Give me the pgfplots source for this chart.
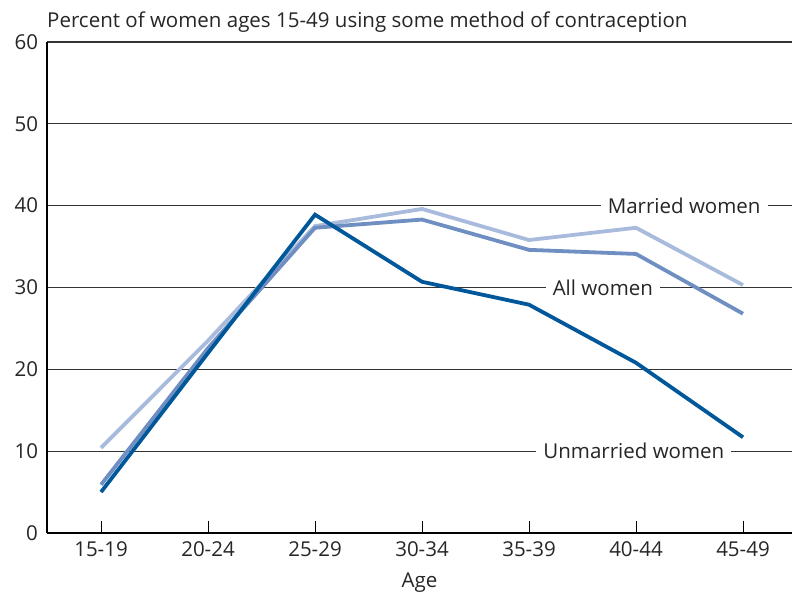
\documentclass[border=0pt]{standalone}
\usepackage{pgfplots}
\pgfplotsset{compat=1.18}
\usepackage{fontspec}
\setmainfont{Open Sans}
\definecolor{unmarried}{HTML}{00589A}
\definecolor{allw}{HTML}{6F8FC2}
\definecolor{married}{HTML}{A8BBDD}
\newcommand\chartfont{\fontsize{20.5bp}{24bp}\selectfont}
\begin{document}
\chartfont
\begin{tikzpicture}
\begin{axis}[
  scale only axis, width=745bp, height=491bp,
  xmin=-0.505, xmax=6.458, ymin=0, ymax=60,
  xtick={0,...,6},
  xticklabels={15-19,20-24,25-29,30-34,35-39,40-44,45-49},
  ytick={0,10,...,60},
  axis lines*=left,
  axis line style={black, line width=1.4bp},
  tick align=inside, major tick length=12bp,
  xtick style={black, line width=1bp},
  ytick style={draw=none},
  ymajorgrids, grid style={black!80, line width=1.2bp},
  /pgf/number format/assume math mode=true,
  tick label style={font=\chartfont, text=black!85},
  yticklabel style={xshift=-2bp},
  xticklabel style={yshift=-2bp},
  xlabel={Age}, xlabel style={font=\chartfont, text=black!85, yshift=-8bp, inner sep=1bp},
  clip=false,
]
\addplot[married, line width=3.8bp] coordinates {(0,10.4)(1,23.5)(2,37.5)(3,39.6)(4,35.8)(5,37.3)(6,30.3)};
\addplot[allw, line width=3.8bp] coordinates {(0,5.9)(1,22.6)(2,37.3)(3,38.3)(4,34.6)(5,34.1)(6,26.8)};
\addplot[unmarried, line width=3.8bp] coordinates {(0,5.0)(1,22.0)(2,38.9)(3,30.7)(4,27.9)(5,20.8)(6,11.7)};
\node[fill=white, inner xsep=7bp, inner ysep=2bp, text=black!85] at (axis cs:5.45,40) {Married women};
\node[fill=white, inner xsep=7bp, inner ysep=2bp, text=black!85] at (axis cs:4.69,30) {All women};
\node[fill=white, inner xsep=7bp, inner ysep=2bp, text=black!85] at (axis cs:4.98,10) {Unmarried women};
\node[anchor=base west, inner sep=0pt, text=black!85] at ([yshift=14bp]rel axis cs:0,1) {Percent of women ages 15-49 using some method of contraception};
\end{axis}
\pgfresetboundingbox
\path[use as bounding box] ([shift={(-47bp,-62bp)}]current axis.south west) rectangle ([shift={(0bp,42bp)}]current axis.north east);
\end{tikzpicture}
\end{document}
